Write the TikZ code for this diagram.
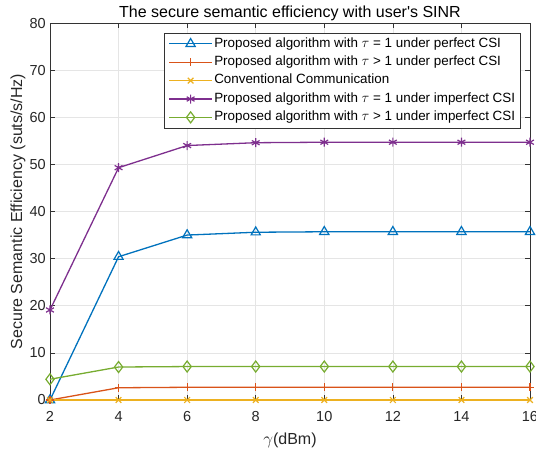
\documentclass[tikz,border=0pt]{standalone}
\usepackage{fontspec}
\setmainfont{Liberation Sans}
\usepackage{pgfplots}
\pgfplotsset{compat=1.18}
\usetikzlibrary{plotmarks}

% MATLAB colour order
\definecolor{lineblue}{RGB}{0,114,189}
\definecolor{lineorange}{RGB}{217,83,25}
\definecolor{lineyellow}{RGB}{237,177,32}
\definecolor{linepurple}{RGB}{126,47,142}
\definecolor{linegreen}{RGB}{119,172,48}

\newcommand\ticksize{\fontsize{14.5}{17}\selectfont}
\newcommand\labelsize{\fontsize{16}{19}\selectfont}
\newcommand\legendsize{\fontsize{13.4}{15}\selectfont}

\tikzset{
  curve/.style = {line width=1.3pt, mark options={solid, line width=1.2pt}},
  axlabel/.style = {anchor=base, font=\labelsize, text=black!85}
}

\begin{document}
\begin{tikzpicture}
	\useasboundingbox (0pt,0pt) rectangle (536pt,451pt);

	\begin{axis}[
		name=plot,
		at={(50pt,51pt)}, anchor=south west,
		scale only axis, width=480pt, height=377pt,
		xmin=2, xmax=16, ymin=0, ymax=80,
		xtick={2,4,...,16}, ytick={0,10,...,80},
		xticklabels={2,4,6,8,10,12,14,16},
		yticklabels={0,10,20,30,40,50,60,70,80},
		grid=major, grid style={black!10, line width=0.6pt},
		axis line style={black!80, line width=0.6pt},
		tick style={black!80, line width=0.6pt},
		major tick length=5pt,
		tick label style={font=\ticksize, text=black!85},
		xticklabel style={inner sep=0pt, yshift=-11.5pt},
		yticklabel style={inner sep=0pt, xshift=-4pt},
		clip=false,
		legend cell align=left,
		legend style={at={(rel axis cs:0.981,0.9735)}, anchor=north east,
			draw=black!80, line width=0.6pt, fill=white, font=\legendsize,
			inner xsep=4pt, inner ysep=2.5pt, row sep=2.4pt,
			nodes={inner sep=1.5pt, text height=9.7pt, text depth=3.3pt}},
		legend image code/.code={
			\draw[mark repeat=2, mark phase=2] plot coordinates {(0pt,0pt) (21.5pt,0pt) (43pt,0pt)};},
	]
	% tau = 1, perfect CSI
	\addplot[curve, color=lineblue, mark=triangle, mark size=5.3pt]
		coordinates {(2,0) (4,30.4) (6,35.0) (8,35.6) (10,35.7) (12,35.7) (14,35.7) (16,35.7)};
	\addlegendentry{Proposed algorithm with $\tau$ = 1 under perfect CSI}
	% tau > 1, perfect CSI
	\addplot[curve, color=lineorange, mark=+, mark size=4pt]
		coordinates {(2,0) (4,2.6) (6,2.7) (8,2.7) (10,2.7) (12,2.7) (14,2.7) (16,2.7)};
	\addlegendentry{Proposed algorithm with $\tau$ > 1 under perfect CSI}
	% conventional
	\addplot[curve, color=lineyellow, mark=x, mark size=4pt]
		coordinates {(2,0) (4,0) (6,0) (8,0) (10,0) (12,0) (14,0) (16,0)};
	\addlegendentry{Conventional Communication}
	% tau = 1, imperfect CSI
	\addplot[curve, color=linepurple, mark=asterisk, mark size=4.5pt]
		coordinates {(2,19.1) (4,49.3) (6,54.0) (8,54.6) (10,54.7) (12,54.7) (14,54.7) (16,54.7)};
	\addlegendentry{Proposed algorithm with $\tau$ = 1 under imperfect CSI}
	% tau > 1, imperfect CSI
	\addplot[curve, color=linegreen, mark=diamond, mark size=5.5pt]
		coordinates {(2,4.4) (4,7.0) (6,7.1) (8,7.1) (10,7.1) (12,7.1) (14,7.1) (16,7.1)};
	\addlegendentry{Proposed algorithm with $\tau$ > 1 under imperfect CSI}
	\end{axis}

	% Title and axis labels
	\node[anchor=base, font=\labelsize] (title) at (290pt,433pt) {The secure semantic efficiency with user\textquotesingle s SINR};
	\node[axlabel] (xlab) at (290pt,7pt) {$\gamma$(dBm)};
	\node[axlabel, rotate=90] (ylab) at (22pt,239.5pt) {Secure Semantic Efficiency (suts/s/Hz)};
\end{tikzpicture}
\end{document}
